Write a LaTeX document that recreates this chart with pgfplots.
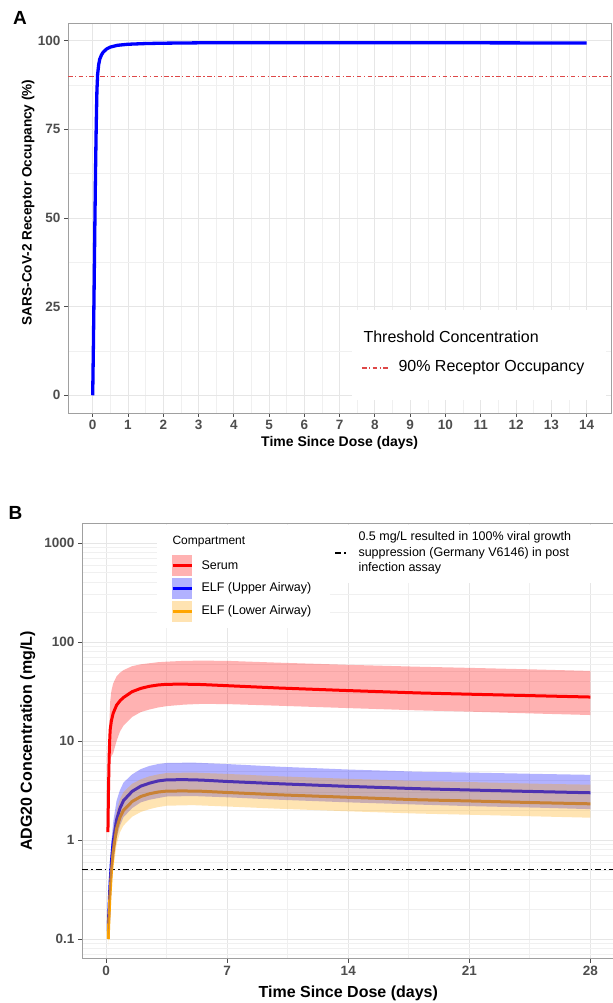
\documentclass[border=0pt]{standalone}
\usepackage{fontspec}
\setmainfont{Liberation Sans}
\usepackage{pgfplots}
\usepackage{pgfplotstable}
\pgfplotsset{compat=1.18}

\definecolor{gridmaj}{RGB}{230,230,230}
\definecolor{gridmin}{RGB}{240,240,240}
\definecolor{framegray}{RGB}{160,160,160}
\definecolor{ticktext}{RGB}{77,77,77}
\definecolor{thrred}{RGB}{222,72,72}
\definecolor{serumred}{RGB}{255,0,0}
\definecolor{elfblue}{RGB}{0,0,255}
\definecolor{elforange}{RGB}{255,165,0}

% receptor occupancy, panel A
\pgfplotstableread{
t ro
0 0
0.02 14
0.04 30
0.06 47
0.08 63
0.10 76
0.12 86
0.14 90.5
0.17 93.3
0.2 94.8
0.25 96.0
0.3 96.8
0.4 97.7
0.5 98.2
0.7 98.7
1.0 99.0
1.5 99.2
2 99.3
3 99.4
5 99.4
8 99.4
11 99.4
14 99.35
}\occupancy

% panel B medians
\pgfplotstableread{
t serum upper lower
0.1 1.2 nan nan
0.12 2.2 0.12 0.1
0.13 3 0.15 0.12
0.17 7 0.22 0.18
0.2 10 0.3 0.24
0.23 13 0.38 0.3
0.3 16 0.6 0.48
0.4 19 0.95 0.75
0.6 23 1.6 1.3
0.8 25.5 2.1 1.7
1.0 27.5 2.5 2.0
1.5 31.5 3.1 2.45
2 34 3.5 2.75
2.5 35.7 3.75 2.93
3 36.8 3.95 3.05
3.5 37.4 4.05 3.12
4.5 37.5 4.07 3.13
5.5 37.2 4.03 3.11
7 36.2 3.9 3.02
10 34.3 3.7 2.86
14 32.3 3.48 2.7
18 30.6 3.3 2.55
21 29.7 3.2 2.48
25 28.6 3.08 2.38
28 27.8 3.0 2.32
}\medians

% panel B bands: lower bound forward, upper bound backward
\pgfplotstableread{
t v
0.1 1.0
0.13 1.8
0.17 3.8
0.23 6.5
0.3 7
0.4 7.5
0.6 10
0.8 12.5
1.0 14.3
1.5 17.5
2 19.6
2.5 20.8
3 21.8
3.5 22.5
4.5 23.3
5.5 23.7
7 23.6
10 22.7
14 21.5
18 20.4
21 19.8
25 18.9
28 18.3
28 51
25 52.7
21 54.8
18 56.3
14 58.8
10 61.8
7 64.5
5.5 64.8
4.5 64.5
3.5 63.3
3 62.5
2.5 61
2 59.5
1.5 57
1.0 52
0.8 49
0.6 45
0.4 38
0.3 32
0.23 25
0.17 13
0.13 5.5
0.1 1.5
}\serumband

\pgfplotstableread{
t v
0.12 0.10
0.2 0.2
0.3 0.4
0.4 0.6
0.6 1.05
0.8 1.4
1.0 1.7
1.5 2.1
2 2.4
2.5 2.55
3 2.65
3.5 2.75
5 2.78
7 2.7
10 2.55
14 2.4
18 2.28
21 2.2
25 2.12
28 2.05
28 4.55
25 4.65
21 4.8
18 4.9
14 5.15
10 5.5
7 5.85
5 6.05
3.5 6.0
3 5.85
2.5 5.6
2 5.2
1.5 4.6
1.0 3.8
0.8 3.2
0.6 2.5
0.4 1.5
0.3 0.95
0.2 0.45
0.12 0.15
}\upperband

\pgfplotstableread{
t v
0.12 0.085
0.2 0.17
0.3 0.33
0.4 0.5
0.6 0.9
0.8 1.2
1.0 1.4
1.5 1.72
2 1.92
2.5 2.05
3 2.15
3.5 2.22
5 2.25
7 2.18
10 2.07
14 1.95
18 1.85
21 1.8
25 1.73
28 1.68
28 3.62
25 3.7
21 3.85
18 3.95
14 4.15
10 4.4
7 4.65
5 4.8
3.5 4.75
3 4.6
2.5 4.4
2 4.1
1.5 3.7
1.0 3.05
0.8 2.6
0.6 2.0
0.4 1.2
0.3 0.75
0.2 0.36
0.12 0.12
}\lowerband

\pgfplotsset{
  ggbox/.style={
    scale only axis,
    anchor=south west,
    axis line style={framegray, line width=0.9bp},
    tick align=outside,
    tick pos=left,
    major tick length=4bp,
    minor tick length=0pt,
    every tick/.style={ticktext, line width=0.9bp},
    grid=both,
    major grid style={gridmaj, line width=0.9bp},
    minor grid style={gridmin, line width=0.6bp},
    tick label style={font=\fontsize{13.5bp}{16bp}\selectfont\bfseries, text=ticktext},
    /pgf/number format/assume math mode=true,
    unbounded coords=jump,
  }
}

\begin{document}
\begin{tikzpicture}[x=1bp,y=1bp]
\useasboundingbox (0,0) rectangle (613,1003);

% ---------- panel A ----------
\begin{axis}[
  ggbox,
  at={(68bp,590bp)},
  width=543.3bp, height=390bp,
  xmin=-0.7, xmax=14.7, ymin=-5, ymax=105,
  xtick={0,...,14}, minor x tick num=1,
  ytick={0,25,50,75,100}, minor y tick num=1,
  label style={font=\fontsize{14bp}{17bp}\selectfont\bfseries},
  ylabel style={font=\fontsize{13.6bp}{16bp}\selectfont\bfseries},
  xlabel={Time Since Dose (days)},
  ylabel={SARS-CoV-2 Receptor Occupancy (\%)},
  xlabel style={at={(axis description cs:0.5,-0.077)}, anchor=center},
  ylabel style={at={(axis description cs:-0.0736,0.54)}, anchor=center},
]
\addplot[thrred, line width=1.2bp, dash pattern=on 4.5bp off 2.5bp on 1.2bp off 2.5bp]
  coordinates {(-0.7,90) (14.7,90)};
\addplot[elfblue, line width=3.3bp] table[x=t, y=ro] {\occupancy};
\end{axis}

% ---------- panel B ----------
\begin{axis}[
  ggbox,
  at={(82bp,44.2bp)},
  width=532.5bp, height=435.6bp,
  ymode=log,
  xmin=-1.4, xmax=29.4, ymin=0.0631, ymax=1585,
  xtick={0,7,14,21,28}, minor x tick num=1,
  ytick={0.1,1,10,100,1000},
  yticklabels={0.1,1,10,100,1000},
  minor ytick={0.07,0.08,0.09,0.2,0.3,0.4,0.5,0.6,0.7,0.8,0.9,2,3,4,5,6,7,8,9,20,30,40,50,60,70,80,90,200,300,400,500,600,700,800,900},
  label style={font=\fontsize{16bp}{19bp}\selectfont\bfseries},
  xlabel={Time Since Dose (days)},
  ylabel={ADG20 Concentration (mg/L)},
  xlabel style={at={(axis description cs:0.5,-0.0785)}, anchor=center},
  ylabel style={at={(axis description cs:-0.102,0.5)}, anchor=center},
]
\addplot[black, line width=1.1bp, dash pattern=on 6bp off 3bp on 1.5bp off 3bp]
  coordinates {(-1.4,0.5) (29.4,0.5)};
\addplot[serumred, line width=3bp] table[x=t, y=serum] {\medians};
\addplot[elfblue, line width=3bp] table[x=t, y=upper] {\medians};
\addplot[elforange, line width=3bp] table[x=t, y=lower] {\medians};
\addplot[fill=serumred, fill opacity=0.3, draw=none] table[x=t, y=v] {\serumband} -- cycle;
\addplot[fill=elfblue, fill opacity=0.3, draw=none] table[x=t, y=v] {\upperband} -- cycle;
\addplot[fill=elforange, fill opacity=0.3, draw=none] table[x=t, y=v] {\lowerband} -- cycle;
\draw[framegray, line width=0.9bp] (rel axis cs:0,1) -- (rel axis cs:1,1);
\end{axis}

% ---------- legends ----------
\fill[white] (352,603) rectangle (606,693);
\node[anchor=west, font=\fontsize{16bp}{19bp}\selectfont] at (360,666) {Threshold Concentration};
\draw[thrred, line width=1.2bp, dash pattern=on 4.5bp off 2.5bp on 1.2bp off 2.5bp] (362,635) -- (389,635);
\node[anchor=west, font=\fontsize{16bp}{19bp}\selectfont] at (395,635) {90\% Receptor Occupancy};

\fill[white] (157,375) rectangle (330,478);
\fill[white] (330,420) rectangle (613,478);
\node[anchor=west, font=\fontsize{12bp}{14bp}\selectfont] at (169,461.5) {Compartment};
\fill[serumred, opacity=0.3] (172,426.8) rectangle (192,447.8);
\draw[serumred, line width=3bp] (172.5,437.3) -- (191.5,437.3);
\node[anchor=west, font=\fontsize{12.5bp}{15bp}\selectfont] at (198,437.3) {Serum};
\fill[elfblue, opacity=0.3] (172,403.8) rectangle (192,424.8);
\draw[elfblue, line width=3bp] (172.5,414.3) -- (191.5,414.3);
\node[anchor=west, font=\fontsize{12.5bp}{15bp}\selectfont] at (198,414.3) {ELF (Upper Airway)};
\fill[elforange, opacity=0.3] (172,380.8) rectangle (192,401.8);
\draw[elforange, line width=3bp] (172.5,391.3) -- (191.5,391.3);
\node[anchor=west, font=\fontsize{12.5bp}{15bp}\selectfont] at (198,391.3) {ELF (Lower Airway)};

\draw[black, line width=1.1bp, dash pattern=on 6bp off 3bp on 1.5bp off 3bp] (335,450) -- (348,450);
\node[anchor=west, align=left, font=\fontsize{12.5bp}{15.5bp}\selectfont] at (355,450)
  {0.5 mg/L resulted in 100\% viral growth\\suppression (Germany V6146) in post\\infection assay};

% panel letters
\node[font=\fontsize{19bp}{22bp}\selectfont\bfseries] at (20,985) {A};
\node[font=\fontsize{19bp}{22bp}\selectfont\bfseries] at (15.5,490) {B};
\end{tikzpicture}
\end{document}
